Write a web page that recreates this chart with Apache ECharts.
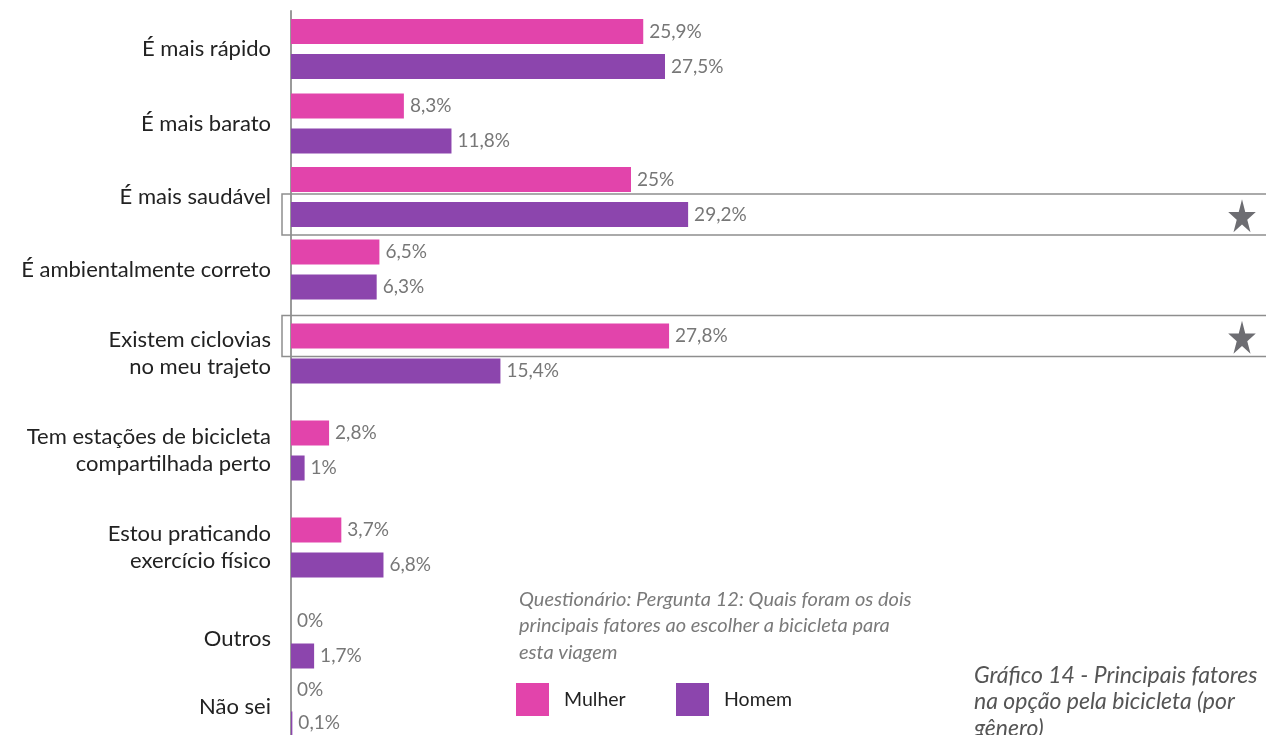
<!DOCTYPE html>
<html>
<head>
<meta charset="utf-8">
<script src="https://cdn.jsdelivr.net/npm/echarts@6/dist/echarts.min.js"></script>
<style>
  html, body { margin: 0; padding: 0; background: #fff; }
  #chart { width: 1266px; height: 735px; }
</style>
</head>
<body>
<div id="chart"></div>
<script>
// Principais fatores na opção pela bicicleta, por gênero (%)
const categories = [
  'É mais rápido',
  'É mais barato',
  'É mais saudável',
  'É ambientalmente correto',
  'Existem ciclovias\nno meu trajeto',
  'Tem estações de bicicleta\ncompartilhada perto',
  'Estou praticando\nexercício físico',
  'Outros',
  'Não sei'
];
const mulher = [25.9, 8.3, 25, 6.5, 27.8, 2.8, 3.7, 0, 0];
const homem  = [27.5, 11.8, 29.2, 6.3, 15.4, 1, 6.8, 1.7, 0.1];
const seriesNames = ['Mulher', 'Homem'];

// Destaques: categoria e série marcadas com estrela
const highlights = [
  { row: 2, serie: 1 },
  { row: 4, serie: 0 }
];

// Layout (pixels): centro vertical de cada grupo de barras
const rowCenters = [49, 123.5, 197, 269.5, 353.5, 450.5, 547.5, 638.5, 713];
const PLOT_LEFT = 291;
const X_MAX = 40;
const PX_PER_UNIT = 13.6;
const BAR_W = 25;
const BAR_GAP = 10;

const COLORS = ['#E244AB', '#8C45AD'];
const FONT = 'Lato, "Open Sans", sans-serif';

const fmt = v => String(v).replace('.', ',') + '%';

const grids = [], xAxes = [], yAxes = [], series = [];

// Eixo vertical contínuo
grids.push({ left: PLOT_LEFT, top: 11, width: X_MAX * PX_PER_UNIT, height: 730 });
xAxes.push({ gridIndex: 0, type: 'value', min: 0, max: X_MAX, show: false });
yAxes.push({
  gridIndex: 0, type: 'value', min: 0, max: 1,
  axisLine: { show: true, lineStyle: { color: '#9a9a9a', width: 2 } },
  axisTick: { show: false }, axisLabel: { show: false }, splitLine: { show: false }
});

categories.forEach((cat, i) => {
  const g = i + 1;
  const h = BAR_W * 2 + BAR_GAP + 10;
  grids.push({
    left: PLOT_LEFT, top: rowCenters[i] - h / 2,
    width: X_MAX * PX_PER_UNIT, height: h
  });
  xAxes.push({ gridIndex: g, type: 'value', min: 0, max: X_MAX, show: false });
  yAxes.push({
    gridIndex: g, type: 'category', data: [cat],
    axisLine: { show: false }, axisTick: { show: false }, splitLine: { show: false },
    axisLabel: {
      color: '#222', fontSize: 22, fontFamily: FONT, margin: 20,
      lineHeight: 27, align: 'right', padding: [3, 0, 0, 0]
    }
  });
  [mulher, homem].forEach((arr, s) => {
    series.push({
      name: seriesNames[s], type: 'bar',
      xAxisIndex: g, yAxisIndex: g,
      data: [arr[i]],
      barWidth: BAR_W, barGap: (BAR_GAP / BAR_W * 100) + '%',
      itemStyle: { color: COLORS[s] },
      label: {
        show: true, position: 'right', distance: 6,
        color: '#777', fontSize: 19, fontFamily: FONT,
        formatter: p => fmt(p.value)
      }
    });
  });
});

// Caixas e estrelas de destaque
function starPoints(cx, cy, rx, ry) {
  const pts = [];
  for (let k = 0; k < 10; k++) {
    const a = -Math.PI / 2 + k * Math.PI / 5;
    const r = k % 2 === 0 ? 1 : 0.382;
    pts.push([cx + Math.cos(a) * rx * r, cy + Math.sin(a) * ry * r]);
  }
  return pts;
}

const graphics = [];
highlights.forEach(hl => {
  const offset = (BAR_W + BAR_GAP) / 2 * (hl.serie === 0 ? -1 : 1);
  const cy = rowCenters[hl.row] + offset;
  graphics.push({
    type: 'rect', z: 10,
    shape: { x: 282, y: cy - 20.5, width: 1100, height: 41 },
    style: { fill: 'none', stroke: '#8e8e8e', lineWidth: 1.5 }
  });
  graphics.push({
    type: 'polygon', z: 10,
    shape: { points: starPoints(1242, cy + 3, 14.5, 18.2) },
    style: { fill: '#6d6d72' }
  });
});

graphics.push({
  type: 'text', left: 519, top: 586, z: 10,
  style: {
    text: 'Questionário: Pergunta 12: Quais foram os dois\nprincipais fatores ao escolher a bicicleta para\nesta viagem',
    fill: '#7a7a7a', fontSize: 20, fontStyle: 'italic', fontFamily: FONT,
    lineHeight: 26.5
  }
});

const legendCommon = {
  orient: 'horizontal', icon: 'rect', itemWidth: 33, itemHeight: 33,
  padding: 0, top: 683,
  textStyle: { color: '#222', fontSize: 19.5, fontFamily: FONT, padding: [0, 0, 0, 10] }
};

const option = {
  animation: false,
  backgroundColor: '#fff',
  title: {
    text: 'Gráfico 14 - Principais fatores\nna opção pela bicicleta (por\ngênero)',
    left: 974, top: 662, padding: 0,
    textStyle: {
      color: '#555', fontSize: 23, fontStyle: 'italic', fontWeight: 'normal',
      fontFamily: FONT, lineHeight: 26.5
    }
  },
  legend: [
    Object.assign({}, legendCommon, { left: 516, data: ['Mulher'] }),
    Object.assign({}, legendCommon, { left: 676, data: ['Homem'] })
  ],
  grid: grids,
  xAxis: xAxes,
  yAxis: yAxes,
  series: series,
  graphic: graphics
};

const chart = echarts.init(document.getElementById('chart'), null, { renderer: 'canvas' });
chart.setOption(option);
</script>
</body>
</html>
